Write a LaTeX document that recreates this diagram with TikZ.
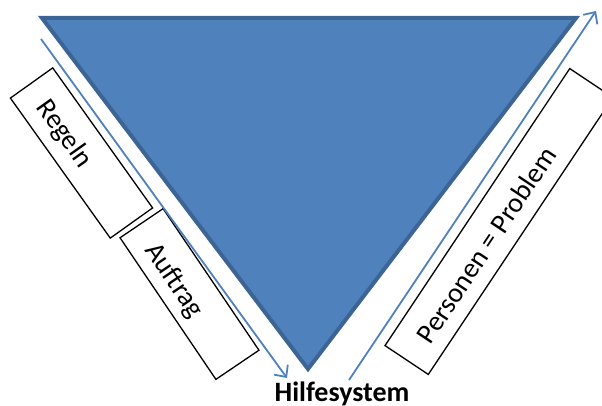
\documentclass[tikz,border=0pt]{standalone}
\usepackage{fontspec}
\setmainfont{Carlito}
\usetikzlibrary{arrows.meta}
\definecolor{triFill}{HTML}{4F81BD}
\definecolor{triLine}{HTML}{3C6494}
\definecolor{arrBlue}{HTML}{4F81BD}
\tikzset{
  labelbox/.style={draw=black, line width=1.3pt, fill=white, minimum height=52pt, inner sep=0pt},
  flowarrow/.style={draw=arrBlue, line width=1.8pt, -{Straight Barb[length=9pt,width=17pt,line width=1.8pt]}},
  boxtext/.style={font=\fontsize{28}{32}\selectfont, inner sep=0pt}
}
\begin{document}
\begin{tikzpicture}[x=1pt,y=-1pt]
\useasboundingbox (0,0) rectangle (602,406);
\clip (0,0) rectangle (602,406);
% triangle
\coordinate (tl) at (42,18);
\coordinate (tr) at (576,18);
\coordinate (bt) at (308,369);
\draw[fill=triFill, draw=triLine, line width=4pt, line join=miter] (tl) -- (tr) -- (bt) -- cycle;
% boxes
\node[labelbox, minimum width=172pt, rotate=-54.5] (regelnbox) at (81.5,153) {};
\node[labelbox, minimum width=171pt, rotate=-55.9] (auftragbox) at (189.5,294) {};
\node[labelbox, minimum width=333pt, rotate=56.3] (personenbox) at (499,221.5) {};
% texts
\node[boxtext, rotate=-54.5] (regeln) at (64,134) {Regeln};
\node[boxtext, rotate=-55.9] (auftrag) at (173.5,281) {Auftrag};
\node[boxtext, rotate=56.3] (personen) at (486,245) {Personen = Problem};
% arrows
\coordinate (la) at (41,39);
\coordinate (lb) at (287,378);
\coordinate (ra) at (349,380);
\coordinate (rb) at (596,11);
\draw[flowarrow] (la) -- (lb);
\draw[flowarrow] (ra) -- (rb);
% bottom label
\node[font=\fontsize{28}{32}\selectfont\bfseries, anchor=base, inner sep=0pt] (hilfe) at (342,401) {Hilfesystem};
\end{tikzpicture}
\end{document}
